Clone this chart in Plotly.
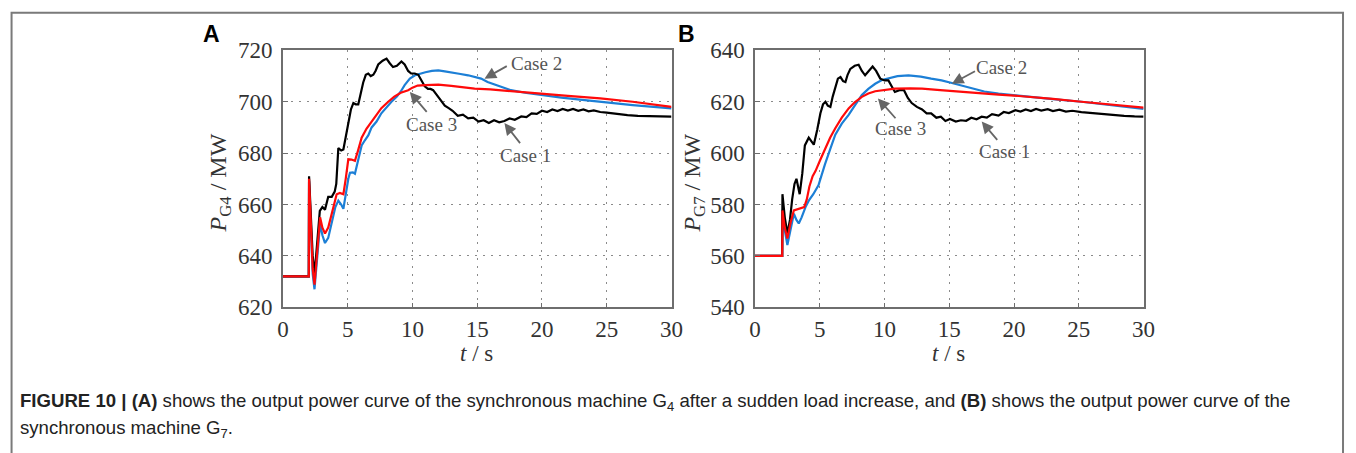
import plotly.graph_objects as go

# ---------------- data ----------------
# Panel A: P_G4 (MW)
a_case1_t = [0, 2.0, 2.02, 2.15, 2.3, 2.45, 2.6, 2.85, 3.05, 3.25, 3.5, 3.77, 4.0, 4.12, 4.28, 4.5, 4.67, 4.85,
             5.05, 5.25, 5.44, 5.62, 5.82, 6.0, 6.2, 6.4, 6.59, 6.78, 6.98, 7.15, 7.36, 7.7, 8.0, 8.25, 8.5,
             8.8, 9.15, 9.4, 9.67, 9.9, 10.18, 10.45, 10.7, 10.95, 11.2, 11.4, 11.6, 11.9, 12.2, 12.5, 12.8,
             13.1, 13.5, 13.9, 14.3, 14.7, 15.1, 15.5, 15.9, 16.3, 16.7, 17.1, 17.5, 17.9, 18.4, 18.8, 19.2,
             19.6, 20.0, 20.4, 20.8, 21.2, 21.6, 22.0, 22.4, 22.8, 23.2, 23.6, 24.0, 24.5, 25.0, 25.8, 26.6,
             27.4, 28.2, 29.0, 30]
a_case1_p = [632, 632, 671, 655, 640, 633, 643, 657.5, 659, 658, 663, 663, 665, 668, 682, 681, 681.4, 686,
             692, 697, 699.5, 699, 699, 703, 707.5, 710.5, 711, 710, 710.5, 712, 714.5, 716, 716.8, 715, 713.5,
             714, 715.7, 714.5, 712, 711, 711, 710.5, 708.5, 706, 705, 705, 704.5, 702.5, 700.5, 698.5, 697.5,
             696.5, 694.5, 695, 693.5, 693.8, 692.3, 692.8, 691.7, 692.8, 692, 692.5, 693.5, 693, 694.3, 694,
             695.5, 695.3, 696.5, 696, 697, 696.4, 697.2, 696.6, 697.2, 696.5, 697, 696.3, 696.6, 696, 695.8,
             695.2, 694.8, 694.5, 694.4, 694.2, 694.2]

a_case2_t = [0, 2.0, 2.02, 2.15, 2.3, 2.44, 2.6, 2.87, 3.05, 3.25, 3.5, 3.8, 4.05, 4.28, 4.5, 4.67, 4.85,
             5.05, 5.18, 5.4, 5.56, 5.8, 6.08, 6.33, 6.6, 6.85, 7.23, 7.6, 8.0, 8.38, 8.8, 9.1, 9.4, 9.8,
             10.2, 10.6, 11.0, 11.5, 12.0, 12.5, 13.0, 13.6, 14.3, 15.3, 15.8, 16.7, 17.6, 18.8, 19.9, 21.5,
             23.3, 25.0, 27.0, 30]
a_case2_p = [632, 632, 669, 650, 633, 627, 636, 652.5, 648, 645, 647, 653, 659, 661.5, 660, 658.3, 664,
             670, 672.4, 672.5, 672, 677, 683, 685, 687, 690, 692.3, 695.5, 698, 700, 702, 704, 706.5, 709,
             710.3, 711, 711.5, 712, 712.2, 711.8, 711.5, 710.9, 710.3, 709, 707.7, 706, 704.5, 703.4, 702.6,
             701.6, 700.6, 699.7, 698.7, 697.4]

a_case3_t = [0, 2.0, 2.02, 2.15, 2.3, 2.44, 2.6, 2.87, 3.05, 3.25, 3.5, 3.8, 4.15, 4.4, 4.67, 4.85, 5.05,
             5.3, 5.56, 5.8, 6.08, 6.45, 6.85, 7.2, 7.6, 8.13, 8.6, 9.1, 9.67, 10.0, 10.4, 11.0, 12.0, 13.0,
             14.0, 14.8, 16.0, 16.8, 18.0, 19.9, 22.0, 24.5, 27.0, 30]
a_case3_p = [632, 632, 670, 650, 635, 628.8, 640, 655, 651, 648.7, 651, 657, 664, 664.5, 664, 670, 677.6,
             677.5, 677, 681, 686, 689.5, 692.3, 695, 697.5, 700, 702, 703.5, 704.5, 705.5, 706.3, 706.5,
             706.7, 706.2, 705.6, 705.1, 704.8, 704.5, 704, 703.2, 702.3, 701.3, 700, 698]

# Panel B: P_G7 (MW)
b_case1_t = [0, 2.1, 2.12, 2.3, 2.5, 2.7, 2.87, 3.05, 3.2, 3.45, 3.65, 3.85, 4.15, 4.35, 4.54, 4.8, 5.05,
             5.25, 5.44, 5.62, 5.82, 6.0, 6.2, 6.4, 6.6, 6.8, 6.98, 7.15, 7.36, 7.7, 8.0, 8.25, 8.5, 8.8, 9.08,
             9.35, 9.67, 10.0, 10.3, 10.55, 10.8, 11.15, 11.5, 11.8, 12.1, 12.5, 12.9, 13.25, 13.6, 14.0,
             14.35, 14.7, 15.05, 15.5, 15.9, 16.3, 16.7, 17.1, 17.5, 17.9, 18.3, 18.8, 19.2, 19.6, 20.1, 20.5,
             20.9, 21.3, 21.7, 22.1, 22.6, 23.0, 23.5, 24.0, 24.5, 25.2, 26.0, 26.8, 27.7, 28.5, 29.3, 30]
b_case1_p = [560, 560, 584, 575, 568.7, 574, 582, 588, 590, 584, 592, 603, 606, 604.5, 603.3, 609, 615.5,
             619, 620, 618.5, 618, 622, 626, 629, 629.6, 628, 627.7, 630.5, 632.8, 634, 634.4, 632, 630.3, 632,
             633.7, 632, 629, 628.3, 628.3, 626, 623.8, 624.5, 624.5, 621.5, 619.5, 618, 617, 615.5, 615.5,
             613.8, 614.2, 612.5, 613.3, 612.3, 612.8, 612.6, 613.8, 613.2, 614.2, 613.8, 615.2, 614.6, 616,
             615.6, 616.7, 616.2, 617, 616.4, 617.2, 616.6, 617.1, 616.4, 616.9, 616.2, 616.5, 616, 615.6,
             615.1, 614.9, 614.5, 614.3, 614.2]

b_case2_t = [0, 2.1, 2.12, 2.3, 2.5, 2.75, 3.0, 3.2, 3.38, 3.6, 3.9, 4.15, 4.5, 4.9, 5.15, 5.4, 5.8, 6.2,
             6.7, 7.23, 7.7, 8.25, 8.75, 9.28, 9.8, 10.3, 11.0, 11.85, 12.8, 13.6, 14.4, 15.2, 16.0, 16.7,
             17.7, 18.8, 20.0, 21.3, 23.0, 25.2, 27.5, 30]
b_case2_p = [560, 560, 578, 570, 564.2, 571, 576.4, 574, 572.6, 575, 579, 581.5, 584, 587.5, 592, 595.6,
             601.5, 607.2, 611.5, 614.9, 618.5, 622.6, 625, 627, 628.5, 629.2, 630, 630.3, 629.8, 629, 628.3,
             627.3, 626.2, 625.1, 624, 623.2, 622.5, 621.9, 621, 620, 618.7, 617.2]

b_case3_t = [0, 2.1, 2.12, 2.3, 2.5, 2.75, 3.0, 3.5, 3.8, 4.0, 4.2, 4.45, 4.67, 5.05, 5.44, 5.8, 6.2, 6.7,
             7.23, 7.7, 8.25, 8.75, 9.28, 10.0, 10.8, 12.0, 12.9, 14.3, 15.9, 17.5, 18.8, 20.0, 21.3, 23.0,
             25.2, 27.5, 30]
b_case3_p = [560, 560, 577.7, 571, 566.8, 573, 577.7, 578.5, 579, 582, 587, 591, 593, 597.5, 602, 606,
             609.7, 613.8, 617.4, 619.8, 621.9, 623.2, 624.1, 624.7, 625.1, 625.2, 625.1, 624.5, 623.8, 623.2,
             622.8, 622.4, 621.9, 621.1, 620, 619, 617.7]

x_ticks = [0, 5, 10, 15, 20, 25, 30]
a_y_ticks = [620, 640, 660, 680, 700, 720]
b_y_ticks = [540, 560, 580, 600, 620, 640]
case_labels = ["Case 1", "Case 2", "Case 3"]

# label positions (text centre, arrow tail, arrow tip) in data units
a_labels = {"Case 2": ((19.6, 715.0), (17.4, 714.2), (15.56, 709.0)),
            "Case 3": ((11.46, 691.3), (11.2, 695.5), (9.8, 703.8)),
            "Case 1": ((18.7, 679.0), (18.4, 683.3), (17.1, 691.7))}
b_labels = {"Case 2": ((19.0, 633.3), (17.1, 632.2), (15.2, 627.0)),
            "Case 3": ((11.23, 609.4), (10.95, 613.0), (9.49, 621.3)),
            "Case 1": ((19.3, 600.6), (18.8, 604.6), (17.5, 612.3))}

# ---------------- figure ----------------
W, H = 1356, 453
BLUE, RED, BLACK = "#1c7fd6", "#ff0a0a", "#000000"
SERIF = "Liberation Serif, Times New Roman, serif"
SANS = "Liberation Sans, Arial, sans-serif"

# the page is photographed with a slight scale/offset; map target pixels to layout pixels
def lx(xp):
    return (xp - 2.4) / 0.9928

def ly(yp):
    return (yp - 9.0) / 0.96

def paper(xp, yp):
    return lx(xp) / W, 1 - ly(yp) / H

fig = go.Figure()

def add_panel(xa, ya, c1t, c1p, c2t, c2p, c3t, c3p):
    fig.add_trace(go.Scatter(x=c2t, y=c2p, mode="lines", line=dict(color=BLUE, width=2.2),
                             xaxis=xa, yaxis=ya, name=case_labels[1], showlegend=False))
    fig.add_trace(go.Scatter(x=c1t, y=c1p, mode="lines", line=dict(color=BLACK, width=2.2),
                             xaxis=xa, yaxis=ya, name=case_labels[0], showlegend=False))
    fig.add_trace(go.Scatter(x=c3t, y=c3p, mode="lines", line=dict(color=RED, width=2.2),
                             xaxis=xa, yaxis=ya, name=case_labels[2], showlegend=False))

add_panel("x", "y", a_case1_t, a_case1_p, a_case2_t, a_case2_p, a_case3_t, a_case3_p)
add_panel("x2", "y2", b_case1_t, b_case1_p, b_case2_t, b_case2_p, b_case3_t, b_case3_p)

y_top = 1 - ly(48) / H
y_bot = 1 - ly(309) / H

axis_common = dict(showline=True, mirror=True, linecolor="#6e6e6e", linewidth=1.5,
                   ticks="inside", ticklen=5, tickcolor="#6e6e6e",
                   showgrid=True, gridcolor="#8a8a8a", gridwidth=1.4, griddash="2px,6px",
                   zeroline=False, tickfont=dict(family=SERIF, size=23, color="#333333"))

fig.update_layout(
    width=W, height=H, margin=dict(l=0, r=0, t=0, b=0),
    paper_bgcolor="white", plot_bgcolor="white",
    xaxis=dict(domain=[lx(281) / W, lx(672) / W], range=[0, 30], tickvals=x_ticks, anchor="y",
               ticklabelstandoff=0, **axis_common),
    yaxis=dict(domain=[y_bot, y_top], range=[620, 720], tickvals=a_y_ticks, anchor="x",
               ticklabelstandoff=4, **axis_common),
    xaxis2=dict(domain=[lx(756) / W, lx(1147) / W], range=[0, 30], tickvals=x_ticks, anchor="y2",
                ticklabelstandoff=0, **axis_common),
    yaxis2=dict(domain=[y_bot, y_top], range=[540, 640], tickvals=b_y_ticks, anchor="x2",
                ticklabelstandoff=4, **axis_common),
)

annotations = []
def add_labels(labels, xr, yr):
    for name, (txt, tail, tip) in labels.items():
        annotations.append(dict(x=tip[0], y=tip[1], ax=tail[0], ay=tail[1], xref=xr, yref=yr,
                                axref=xr, ayref=yr, text="", showarrow=True, arrowhead=2,
                                arrowsize=1.3, arrowwidth=1.8, arrowcolor="#666666"))
        annotations.append(dict(x=txt[0], y=txt[1], xref=xr, yref=yr, text=name, showarrow=False,
                                xanchor="center", yanchor="middle",
                                font=dict(family=SERIF, size=19, color="#555555")))

add_labels(a_labels, "x", "y")
add_labels(b_labels, "x2", "y2")

# axis titles
for cx, lbl in [(476, "<i>t</i> / s"), (951, "<i>t</i> / s")]:
    x, y = paper(cx, 356)
    annotations.append(dict(x=x, y=y, xref="paper", yref="paper", text=lbl, showarrow=False,
                            xanchor="center", yanchor="middle", borderpad=0,
                            font=dict(family=SERIF, size=23, color="#333333")))
for cx, lbl in [(218, "<i>P</i><sub>G4</sub> / MW"), (695, "<i>P</i><sub>G7</sub> / MW")]:
    x, y = paper(cx, 183)
    annotations.append(dict(x=x, y=y, xref="paper", yref="paper", text=lbl, showarrow=False,
                            textangle=-90, xanchor="center", yanchor="middle",
                            font=dict(family=SERIF, size=24, color="#333333")))

# panel letters
for cx, lbl in [(209, "A"), (687, "B")]:
    x, y = paper(cx, 31)
    annotations.append(dict(x=x, y=y, xref="paper", yref="paper", text="<b>%s</b>" % lbl,
                            showarrow=False, xanchor="center", yanchor="middle",
                            font=dict(family=SANS, size=23, color="#000000")))

# caption
cap1 = ("<b>FIGURE 10 | (A)</b> shows the output power curve of the synchronous machine G<sub>4</sub> "
        "after a sudden load increase, and <b>(B)</b> shows the output power curve of the")
cap2 = "synchronous machine G<sub>7</sub>."
for yp, txt in [(405, cap1), (433, cap2)]:
    x, y = paper(14, yp)
    annotations.append(dict(x=x, y=y, xref="paper", yref="paper", text=txt, showarrow=False,
                            xanchor="left", yanchor="middle",
                            font=dict(family=SANS, size=18.6, color="#222222")))

fig.update_layout(annotations=annotations)

# outer frame (open at the bottom)
fx0, fy0 = paper(8, 9.5)
fig.add_shape(type="rect", xref="paper", yref="paper", x0=fx0, x1=1355 / W, y0=-0.2, y1=1 - 0.8 / H,
              line=dict(color="#7a7a7a", width=2))

fig.write_html("out.html")
